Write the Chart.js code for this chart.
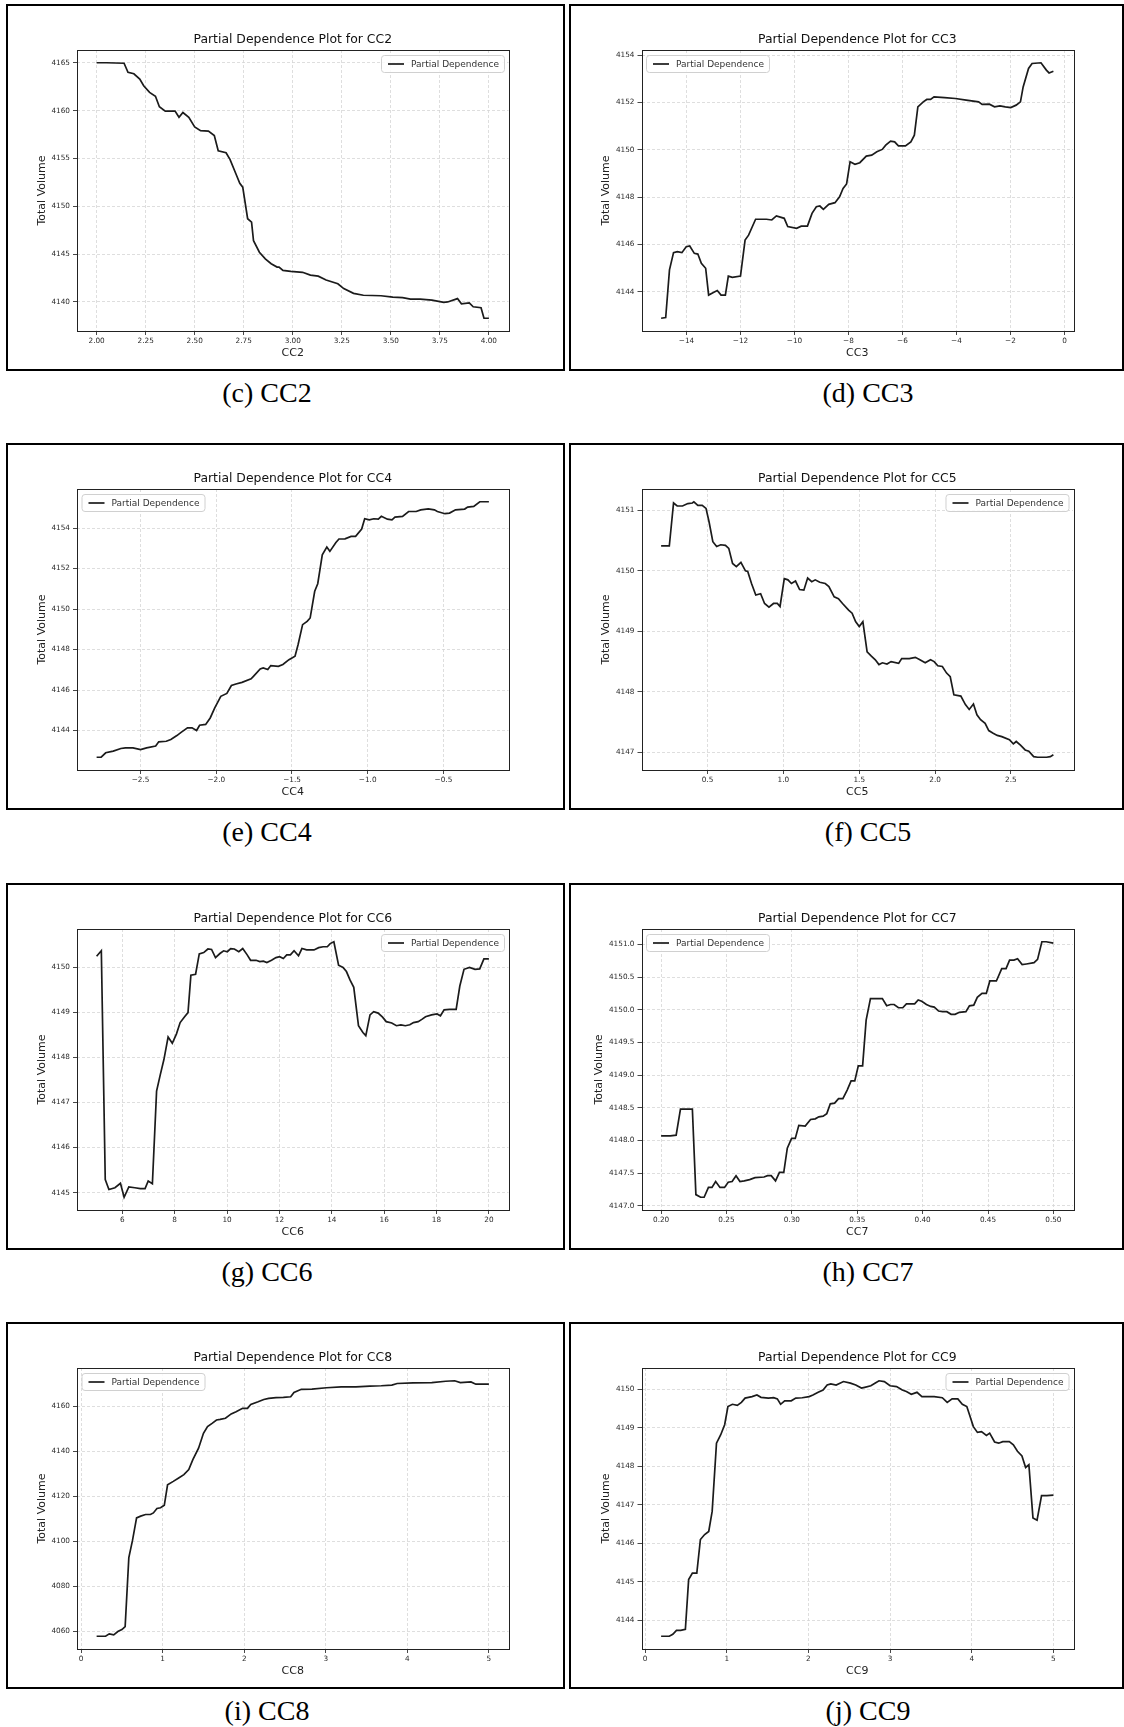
<!DOCTYPE html>
<html>
<head>
<meta charset="utf-8">
<script src="https://cdn.jsdelivr.net/npm/chart.js@4.4.1/dist/chart.umd.min.js"></script>
<style>
  body { margin: 0; background: #fff; width: 1124px; height: 1727px; position: relative; overflow: hidden; }
  .box { position: absolute; border: 2px solid #000; box-sizing: border-box; background: #fff; }
  .box canvas { position: absolute; left: 0; top: 0; }
  .cap { position: absolute; font-family: 'Liberation Serif', 'Times New Roman', serif; font-size: 28px;
         color: #000; transform: translate(-50%, -50%); white-space: nowrap; }
</style>
</head>
<body>
<script>
/* Partial dependence grid: eight panels (c)–(j), one line each. */

const cc2X = [2.00, 2.05, 2.14, 2.16, 2.19, 2.22, 2.24, 2.27, 2.30, 2.32, 2.35, 2.40, 2.42, 2.44, 2.47, 2.50, 2.53, 2.57, 2.60, 2.62,
  2.66, 2.68, 2.71, 2.73, 2.745, 2.77, 2.79, 2.80, 2.83, 2.86, 2.89, 2.92, 2.93, 2.95, 2.99, 3.05, 3.09, 3.13, 3.17, 3.23,
  3.26, 3.31, 3.36, 3.45, 3.51, 3.56, 3.60, 3.65, 3.71, 3.77, 3.79, 3.84, 3.86, 3.90, 3.92, 3.96, 3.975, 4.00];
const cc2Y = [4165.0, 4165.0, 4164.95, 4164.0, 4163.85, 4163.3, 4162.6, 4161.9, 4161.5, 4160.4, 4159.95, 4159.95, 4159.3, 4159.8, 4159.3, 4158.3, 4157.9, 4157.85, 4157.4, 4155.8,
  4155.6, 4154.9, 4153.4, 4152.4, 4152.0, 4148.7, 4148.35, 4146.4, 4145.2, 4144.5, 4144.0, 4143.65, 4143.65, 4143.3, 4143.2, 4143.1, 4142.8, 4142.7, 4142.3, 4141.9,
  4141.4, 4140.9, 4140.7, 4140.65, 4140.5, 4140.45, 4140.3, 4140.3, 4140.2, 4139.95, 4140.0, 4140.35, 4139.8, 4139.9, 4139.5, 4139.4, 4138.3, 4138.3];
const cc2XTicks = ['2.00', '2.25', '2.50', '2.75', '3.00', '3.25', '3.50', '3.75', '4.00'];
const cc2YTicks = ['4140', '4145', '4150', '4155', '4160', '4165'];

const cc3X = [-14.94, -14.77, -14.63, -14.48, -14.34, -14.17, -14.01, -13.88, -13.71, -13.58,
  -13.45, -13.29, -13.18, -13.02, -12.86, -12.72, -12.56, -12.45, -12.30, -12.00,
  -11.83, -11.70, -11.44, -11.04, -10.84, -10.67, -10.38, -10.25, -9.92, -9.75,
  -9.52, -9.35, -9.19, -9.06, -8.93, -8.73, -8.50, -8.33, -8.20, -8.07,
  -7.94, -7.76, -7.58, -7.34, -7.14, -6.95, -6.75, -6.62, -6.44, -6.29,
  -6.15, -5.89, -5.69, -5.56, -5.43, -5.23, -5.10, -4.96, -4.83, -4.44,
  -4.04, -3.64, -3.18, -3.05, -2.78, -2.59, -2.39, -2.19, -1.99, -1.79,
  -1.63, -1.53, -1.33, -1.20, -0.87, -0.67, -0.57, -0.41];
const cc3Y = [4142.89, 4142.92, 4144.93, 4145.66, 4145.70, 4145.66, 4145.91, 4145.94, 4145.63, 4145.60,
  4145.21, 4145.00, 4143.87, 4143.97, 4144.06, 4143.87, 4143.87, 4144.67, 4144.62, 4144.67,
  4146.19, 4146.40, 4147.07, 4147.07, 4147.04, 4147.21, 4147.11, 4146.76, 4146.69, 4146.78,
  4146.78, 4147.32, 4147.60, 4147.63, 4147.49, 4147.70, 4147.77, 4148.02, 4148.37, 4148.56,
  4149.50, 4149.39, 4149.46, 4149.74, 4149.78, 4149.92, 4150.02, 4150.20, 4150.37, 4150.34,
  4150.17, 4150.17, 4150.34, 4150.62, 4151.82, 4152.03, 4152.13, 4152.13, 4152.24, 4152.21,
  4152.17, 4152.10, 4152.03, 4151.92, 4151.93, 4151.82, 4151.86, 4151.82, 4151.79, 4151.89,
  4152.03, 4152.66, 4153.44, 4153.65, 4153.68, 4153.37, 4153.25, 4153.32];
const cc3XTicks = ['−14', '−12', '−10', '−8', '−6', '−4', '−2', '0'];
const cc3YTicks = ['4144', '4146', '4148', '4150', '4152', '4154'];

const cc4X = [-2.79, -2.76, -2.73, -2.68, -2.63, -2.60, -2.55, -2.50, -2.46, -2.40,
  -2.38, -2.33, -2.30, -2.26, -2.23, -2.19, -2.16, -2.13, -2.11, -2.07,
  -2.04, -2.01, -1.97, -1.93, -1.90, -1.87, -1.83, -1.77, -1.75, -1.71,
  -1.69, -1.66, -1.64, -1.59, -1.56, -1.52, -1.48, -1.46, -1.43, -1.40,
  -1.38, -1.35, -1.33, -1.30, -1.27, -1.25, -1.21, -1.19, -1.15, -1.11,
  -1.08, -1.04, -1.02, -0.99, -0.96, -0.93, -0.91, -0.87, -0.84, -0.82,
  -0.77, -0.73, -0.68, -0.65, -0.60, -0.56, -0.54, -0.49, -0.46, -0.42,
  -0.36, -0.34, -0.30, -0.26, -0.20];
const cc4Y = [4142.68, 4142.68, 4142.90, 4142.98, 4143.11, 4143.14, 4143.14, 4143.06, 4143.14, 4143.23,
  4143.44, 4143.47, 4143.56, 4143.75, 4143.92, 4144.13, 4144.13, 4144.00, 4144.26, 4144.30,
  4144.62, 4145.12, 4145.69, 4145.83, 4146.22, 4146.30, 4146.38, 4146.55, 4146.71, 4147.04,
  4147.09, 4147.01, 4147.21, 4147.17, 4147.26, 4147.50, 4147.67, 4148.24, 4149.23, 4149.39,
  4149.56, 4150.88, 4151.25, 4152.68, 4153.06, 4152.85, 4153.29, 4153.46, 4153.47, 4153.59,
  4153.59, 4153.95, 4154.46, 4154.41, 4154.46, 4154.44, 4154.58, 4154.44, 4154.41, 4154.54,
  4154.58, 4154.82, 4154.82, 4154.90, 4154.95, 4154.90, 4154.82, 4154.71, 4154.74, 4154.90,
  4154.94, 4155.04, 4155.07, 4155.30, 4155.30];
const cc4XTicks = ['−2.5', '−2.0', '−1.5', '−1.0', '−0.5'];
const cc4YTicks = ['4144', '4146', '4148', '4150', '4152', '4154'];

const cc5X = [0.194, 0.248, 0.276, 0.30, 0.335, 0.37, 0.40, 0.41, 0.436, 0.465,
  0.49, 0.51, 0.535, 0.56, 0.587, 0.618, 0.64, 0.665, 0.69, 0.72,
  0.75, 0.765, 0.79, 0.818, 0.85, 0.876, 0.905, 0.935, 0.96, 0.978,
  1.006, 1.03, 1.053, 1.08, 1.107, 1.135, 1.16, 1.187, 1.21, 1.24,
  1.276, 1.30, 1.335, 1.363, 1.39, 1.43, 1.453, 1.476, 1.50, 1.524,
  1.552, 1.58, 1.606, 1.63, 1.653, 1.683, 1.71, 1.76, 1.78, 1.83,
  1.87, 1.90, 1.935, 1.97, 1.994, 2.018, 2.048, 2.076, 2.10, 2.124,
  2.17, 2.20, 2.225, 2.253, 2.276, 2.30, 2.33, 2.354, 2.38, 2.41,
  2.44, 2.49, 2.516, 2.535, 2.563, 2.594, 2.618, 2.65, 2.676, 2.735,
  2.76, 2.78];
const cc5Y = [4150.41, 4150.41, 4151.12, 4151.07, 4151.07, 4151.11, 4151.12, 4151.14, 4151.08, 4151.08,
  4151.03, 4150.81, 4150.48, 4150.40, 4150.43, 4150.42, 4150.37, 4150.12, 4150.07, 4150.14,
  4150.00, 4149.99, 4149.79, 4149.60, 4149.62, 4149.46, 4149.40, 4149.46, 4149.46, 4149.41,
  4149.87, 4149.85, 4149.79, 4149.83, 4149.69, 4149.68, 4149.88, 4149.82, 4149.85, 4149.81,
  4149.79, 4149.74, 4149.57, 4149.54, 4149.46, 4149.35, 4149.30, 4149.16, 4149.08, 4149.16,
  4148.66, 4148.59, 4148.53, 4148.45, 4148.48, 4148.46, 4148.50, 4148.47, 4148.55, 4148.55,
  4148.57, 4148.53, 4148.48, 4148.53, 4148.50, 4148.43, 4148.42, 4148.31, 4148.25, 4147.95,
  4147.93, 4147.79, 4147.71, 4147.80, 4147.62, 4147.54, 4147.48, 4147.36, 4147.32, 4147.28,
  4147.26, 4147.21, 4147.14, 4147.18, 4147.12, 4147.04, 4147.02, 4146.93, 4146.92, 4146.92,
  4146.93, 4146.96];
const cc5XTicks = ['0.5', '1.0', '1.5', '2.0', '2.5'];
const cc5YTicks = ['4147', '4148', '4149', '4150', '4151'];

const cc6X = [5.02, 5.20, 5.35, 5.49, 5.72, 5.93, 6.07, 6.25, 6.48, 6.69,
  6.87, 6.99, 7.15, 7.31, 7.45, 7.59, 7.75, 7.91, 8.07, 8.21,
  8.38, 8.51, 8.62, 8.80, 8.94, 9.11, 9.27, 9.41, 9.56, 9.73,
  9.87, 10.01, 10.14, 10.28, 10.45, 10.60, 10.77, 10.90, 11.11, 11.25,
  11.39, 11.52, 11.70, 11.87, 12.01, 12.15, 12.28, 12.42, 12.56, 12.73,
  12.86, 13.04, 13.32, 13.50, 13.67, 13.83, 13.94, 14.08, 14.26, 14.43,
  14.56, 14.70, 14.84, 15.02, 15.19, 15.30, 15.46, 15.60, 15.77, 15.94,
  16.08, 16.29, 16.47, 16.64, 16.81, 16.98, 17.12, 17.30, 17.44, 17.58,
  17.81, 18.02, 18.15, 18.29, 18.50, 18.75, 18.89, 19.05, 19.26, 19.47,
  19.65, 19.81, 20.00];
const cc6Y = [4150.24, 4150.36, 4145.29, 4145.07, 4145.11, 4145.21, 4144.90, 4145.13, 4145.11, 4145.09,
  4145.09, 4145.26, 4145.20, 4147.25, 4147.61, 4147.95, 4148.45, 4148.31, 4148.52, 4148.77,
  4148.90, 4148.99, 4149.82, 4149.84, 4150.29, 4150.32, 4150.40, 4150.39, 4150.21, 4150.30,
  4150.36, 4150.34, 4150.41, 4150.40, 4150.34, 4150.41, 4150.27, 4150.15, 4150.15, 4150.12,
  4150.13, 4150.10, 4150.15, 4150.21, 4150.23, 4150.19, 4150.27, 4150.27, 4150.36, 4150.25,
  4150.41, 4150.38, 4150.38, 4150.43, 4150.45, 4150.45, 4150.52, 4150.56, 4150.04, 4149.99,
  4149.90, 4149.71, 4149.55, 4148.70, 4148.55, 4148.48, 4148.94, 4149.01, 4148.98, 4148.89,
  4148.79, 4148.76, 4148.70, 4148.72, 4148.70, 4148.72, 4148.77, 4148.79, 4148.84, 4148.90,
  4148.94, 4148.96, 4148.92, 4149.05, 4149.06, 4149.06, 4149.58, 4149.95, 4149.99, 4149.95,
  4149.96, 4150.18, 4150.18];
const cc6XTicks = ['6', '8', '10', '12', '14', '16', '18', '20'];
const cc6YTicks = ['4145', '4146', '4147', '4148', '4149', '4150'];

const cc7X = [0.200, 0.207, 0.2115, 0.2148, 0.2239, 0.2266, 0.2302, 0.2329, 0.2362, 0.2389,
  0.2417, 0.2450, 0.2485, 0.2513, 0.2543, 0.2573, 0.2603, 0.2636, 0.2677, 0.2718,
  0.2787, 0.2814, 0.2842, 0.2875, 0.2905, 0.2938, 0.2965, 0.2998, 0.3026, 0.3053,
  0.3102, 0.3143, 0.3179, 0.3206, 0.3239, 0.3267, 0.3294, 0.3327, 0.3357, 0.3390,
  0.3423, 0.3453, 0.3481, 0.3508, 0.3541, 0.3568, 0.3601, 0.3692, 0.3725, 0.3755,
  0.3782, 0.3815, 0.3848, 0.3876, 0.3939, 0.3966, 0.3993, 0.4029, 0.4062, 0.4089,
  0.4122, 0.4152, 0.4185, 0.4218, 0.4248, 0.4281, 0.4331, 0.4358, 0.4391, 0.4418,
  0.4454, 0.4487, 0.4514, 0.4564, 0.4605, 0.4638, 0.4665, 0.4698, 0.4726, 0.4761,
  0.4794, 0.4852, 0.4879, 0.4912, 0.4945, 0.5000];
const cc7Y = [4148.07, 4148.07, 4148.08, 4148.48, 4148.48, 4147.17, 4147.13, 4147.13, 4147.28, 4147.28,
  4147.37, 4147.28, 4147.28, 4147.36, 4147.37, 4147.46, 4147.37, 4147.38, 4147.40, 4147.43,
  4147.44, 4147.46, 4147.46, 4147.38, 4147.51, 4147.51, 4147.88, 4148.03, 4148.03, 4148.23,
  4148.22, 4148.32, 4148.33, 4148.36, 4148.37, 4148.41, 4148.56, 4148.57, 4148.64, 4148.64,
  4148.77, 4148.91, 4148.91, 4149.14, 4149.14, 4149.84, 4150.17, 4150.17, 4150.06, 4150.08,
  4150.08, 4150.03, 4150.03, 4150.09, 4150.09, 4150.15, 4150.13, 4150.08, 4150.05, 4150.04,
  4149.98, 4149.97, 4149.97, 4149.93, 4149.93, 4149.96, 4149.97, 4150.06, 4150.07, 4150.19,
  4150.25, 4150.25, 4150.44, 4150.44, 4150.63, 4150.63, 4150.76, 4150.76, 4150.78, 4150.69,
  4150.70, 4150.72, 4150.77, 4151.04, 4151.04, 4151.02];
const cc7XTicks = ['0.20', '0.25', '0.30', '0.35', '0.40', '0.45', '0.50'];
const cc7YTicks = ['4147.0', '4147.5', '4148.0', '4148.5', '4149.0', '4149.5', '4150.0', '4150.5', '4151.0'];

const cc8X = [0.19, 0.30, 0.345, 0.40, 0.45, 0.50, 0.54, 0.585, 0.63, 0.68,
  0.73, 0.79, 0.85, 0.886, 0.93, 0.974, 1.02, 1.06, 1.13, 1.196,
  1.26, 1.32, 1.37, 1.44, 1.50, 1.55, 1.61, 1.66, 1.705, 1.77,
  1.84, 1.90, 1.98, 2.04, 2.08, 2.17, 2.24, 2.30, 2.39, 2.48,
  2.57, 2.61, 2.70, 2.83, 3.01, 3.19, 3.37, 3.54, 3.68, 3.81,
  3.875, 4.07, 4.30, 4.47, 4.58, 4.65, 4.78, 4.84, 5.00];
const cc8Y = [4057.94, 4057.94, 4058.97, 4058.53, 4060.0, 4060.9, 4062.2, 4092.8, 4100.4, 4110.4,
  4111.2, 4111.9, 4111.9, 4112.6, 4114.6, 4114.9, 4116.0, 4125.1, 4126.6, 4128.1,
  4129.6, 4131.8, 4136.2, 4141.3, 4147.9, 4150.9, 4152.4, 4153.8, 4154.1, 4154.6,
  4156.5, 4157.5, 4159.0, 4159.0, 4160.7, 4161.9, 4162.9, 4163.4, 4163.7, 4163.8,
  4164.1, 4166.0, 4167.4, 4167.5, 4168.1, 4168.5, 4168.5, 4168.8, 4169.0, 4169.3,
  4170.0, 4170.3, 4170.4, 4171.0, 4171.2, 4170.4, 4170.7, 4169.7, 4169.7];
const cc8XTicks = ['0', '1', '2', '3', '4', '5'];
const cc8YTicks = ['4060', '4080', '4100', '4120', '4140', '4160'];

const cc9X = [0.197, 0.297, 0.34, 0.385, 0.437, 0.494, 0.534, 0.58, 0.634, 0.678,
  0.73, 0.78, 0.822, 0.875, 0.927, 0.975, 1.015, 1.07, 1.13, 1.18,
  1.225, 1.31, 1.37, 1.42, 1.51, 1.575, 1.62, 1.66, 1.71, 1.79,
  1.846, 1.925, 2.01, 2.056, 2.12, 2.18, 2.23, 2.275, 2.34, 2.43,
  2.515, 2.58, 2.65, 2.69, 2.765, 2.82, 2.865, 2.93, 3.00, 3.08,
  3.15, 3.20, 3.26, 3.33, 3.39, 3.54, 3.64, 3.70, 3.76, 3.83,
  3.885, 3.94, 3.98, 4.02, 4.07, 4.12, 4.18, 4.22, 4.28, 4.33,
  4.38, 4.46, 4.51, 4.56, 4.615, 4.66, 4.70, 4.75, 4.80, 4.855,
  4.92, 5.00];
const cc9Y = [4143.59, 4143.59, 4143.64, 4143.74, 4143.74, 4143.77, 4145.06, 4145.23, 4145.23, 4146.10,
  4146.23, 4146.31, 4146.83, 4148.60, 4148.82, 4149.08, 4149.55, 4149.61, 4149.58, 4149.66,
  4149.77, 4149.81, 4149.85, 4149.79, 4149.77, 4149.78, 4149.75, 4149.61, 4149.70, 4149.70,
  4149.77, 4149.78, 4149.81, 4149.85, 4149.92, 4149.98, 4150.11, 4150.14, 4150.11, 4150.20,
  4150.16, 4150.11, 4150.03, 4150.05, 4150.09, 4150.16, 4150.22, 4150.20, 4150.09, 4150.07,
  4149.98, 4149.94, 4149.87, 4149.92, 4149.81, 4149.81, 4149.78, 4149.66, 4149.75, 4149.75,
  4149.61, 4149.55, 4149.29, 4149.03, 4148.88, 4148.90, 4148.80, 4148.86, 4148.63, 4148.60,
  4148.64, 4148.64, 4148.56, 4148.39, 4148.27, 4147.97, 4148.04, 4146.66, 4146.60, 4147.24,
  4147.24, 4147.25];
const cc9XTicks = ['0', '1', '2', '3', '4', '5'];
const cc9YTicks = ['4144', '4145', '4146', '4147', '4148', '4149', '4150'];

const panels = [
  { tag: 'c', name: 'CC2', x: cc2X, y: cc2Y, xTicks: cc2XTicks, yTicks: cc2YTicks, legendSide: 'right' },
  { tag: 'd', name: 'CC3', x: cc3X, y: cc3Y, xTicks: cc3XTicks, yTicks: cc3YTicks, legendSide: 'left' },
  { tag: 'e', name: 'CC4', x: cc4X, y: cc4Y, xTicks: cc4XTicks, yTicks: cc4YTicks, legendSide: 'left' },
  { tag: 'f', name: 'CC5', x: cc5X, y: cc5Y, xTicks: cc5XTicks, yTicks: cc5YTicks, legendSide: 'right' },
  { tag: 'g', name: 'CC6', x: cc6X, y: cc6Y, xTicks: cc6XTicks, yTicks: cc6YTicks, legendSide: 'right' },
  { tag: 'h', name: 'CC7', x: cc7X, y: cc7Y, xTicks: cc7XTicks, yTicks: cc7YTicks, legendSide: 'left', yTitleGap: 42.4 },
  { tag: 'i', name: 'CC8', x: cc8X, y: cc8Y, xTicks: cc8XTicks, yTicks: cc8YTicks, legendSide: 'left' },
  { tag: 'j', name: 'CC9', x: cc9X, y: cc9Y, xTicks: cc9XTicks, yTicks: cc9YTicks, legendSide: 'right' },
];

// page layout (px)
const ROW_OFFSETS = [0, 439, 879, 1318];
const COLS = [
  { left: 6, width: 559, plotLeft: 69, capX: 267 },
  { left: 569, width: 555, plotLeft: 70.5, capX: 868 },
];
const BOX_TOP = 4, BOX_H = 367, BORDER = 2;
const PLOT_W = 431.5, PLOT_TOP = 44, XAXIS_H = 38;
const INK = '#1b1b1b';
const FONT = "'DejaVu Sans', sans-serif";
const LABEL_SIZE = 11;

Chart.defaults.font.family = FONT;

// matplotlib-style 5% data margins
function padRange(vals) {
  const lo = Math.min(...vals), hi = Math.max(...vals);
  const m = (hi - lo) * 0.05;
  return [lo - m, hi + m];
}
const toNum = (s) => parseFloat(s.replace('−', '-'));

// title, legend box and the four spines, drawn like matplotlib does
const decor = {
  id: 'pdpDecor',
  afterDatasetsDraw(chart, args, opts) {
    const { ctx, chartArea: ca } = chart;
    ctx.save();

    ctx.strokeStyle = '#222';
    ctx.lineWidth = 1;
    ctx.strokeRect(Math.round(ca.left) + 0.5, Math.round(ca.top) + 0.5,
      Math.round(ca.right - ca.left), Math.round(ca.bottom - ca.top));

    ctx.fillStyle = '#111';
    ctx.font = `12.4px ${FONT}`;
    ctx.textAlign = 'center';
    ctx.textBaseline = 'middle';
    ctx.fillText(opts.title, (ca.left + ca.right) / 2, ca.top - 10);

    const label = chart.data.datasets[0].label;
    ctx.font = `9px ${FONT}`;
    const tw = ctx.measureText(label).width;
    const w = 7 + 16 + 7 + tw + 5, h = 17;
    const x0 = opts.side === 'right' ? ca.right - 4.5 - w : ca.left + 4.5;
    const y0 = ca.top + 5;
    ctx.beginPath();
    ctx.roundRect(x0 + 0.5, y0 + 0.5, w, h, 3);
    ctx.fillStyle = 'rgba(255,255,255,0.85)';
    ctx.fill();
    ctx.strokeStyle = '#d0d0d0';
    ctx.stroke();
    ctx.beginPath();
    ctx.moveTo(x0 + 7, y0 + h / 2 + 0.5);
    ctx.lineTo(x0 + 23, y0 + h / 2 + 0.5);
    ctx.strokeStyle = INK;
    ctx.lineWidth = 1.7;
    ctx.stroke();
    ctx.fillStyle = '#333';
    ctx.textAlign = 'left';
    ctx.fillText(label, x0 + 30, y0 + h / 2 + 1);
    ctx.restore();
  },
};

function axisOpts(tickLabels, range, isX, extra) {
  return Object.assign({
    type: 'linear',
    min: range[0],
    max: range[1],
    afterBuildTicks: (s) => { s.ticks = tickLabels.map((t) => ({ value: toNum(t) })); },
    ticks: {
      autoSkip: false, maxRotation: 0, minRotation: 0,
      padding: isX ? 2 : 3,
      color: '#2a2a2a',
      font: { size: 7.3 },
      callback: (v, i) => tickLabels[i],
    },
    grid: {
      color: '#d6d6d6', lineWidth: 0.8,
      drawTicks: true, tickLength: 4, tickColor: '#333', tickWidth: 0.9, tickBorderDash: [],
    },
    border: { display: false, dash: [3, 2] },
  }, extra);
}

panels.forEach((p, i) => {
  const col = COLS[i % 2];
  const rowOff = ROW_OFFSETS[Math.floor(i / 2)];

  const box = document.createElement('div');
  box.className = 'box';
  box.style.left = col.left + 'px';
  box.style.top = (BOX_TOP + rowOff) + 'px';
  box.style.width = col.width + 'px';
  box.style.height = BOX_H + 'px';
  document.body.appendChild(box);

  const cw = col.width - 2 * BORDER, chh = BOX_H - 2 * BORDER;
  const canvas = document.createElement('canvas');
  canvas.width = cw;
  canvas.height = chh;
  canvas.style.width = cw + 'px';
  canvas.style.height = chh + 'px';
  box.appendChild(canvas);

  const cap = document.createElement('div');
  cap.className = 'cap';
  cap.textContent = `(${p.tag}) ${p.name}`;
  cap.style.left = col.capX + 'px';
  cap.style.top = (393 + rowOff) + 'px';
  document.body.appendChild(cap);

  const L = col.plotLeft;
  const rightPad = cw - (L + PLOT_W);
  const yTitleGap = p.yTitleGap || 35;
  const pts = p.x.map((v, k) => ({ x: v, y: p.y[k] }));

  new Chart(canvas, {
    type: 'line',
    data: {
      datasets: [{
        label: 'Partial Dependence',
        data: pts,
        borderColor: INK,
        backgroundColor: INK,
        borderWidth: 1.7,
        pointRadius: 0,
        tension: 0,
      }],
    },
    options: {
      responsive: false,
      animation: false,
      devicePixelRatio: 1,
      layout: { padding: { top: PLOT_TOP, right: rightPad, bottom: 0, left: 0 } },
      plugins: {
        legend: { display: false },
        tooltip: { enabled: false },
        pdpDecor: { title: `Partial Dependence Plot for ${p.name}`, side: p.legendSide },
      },
      scales: {
        x: axisOpts(p.xTicks, padRange(p.x), true, {
          afterFit: (s) => { s.height = XAXIS_H; },
          title: { display: true, text: p.name, color: '#222', font: { size: LABEL_SIZE },
                   padding: { top: 0, bottom: 9.1 } },
        }),
        y: axisOpts(p.yTicks, padRange(p.y), false, {
          afterFit: (s) => { s.width = L; },
          title: { display: true, text: 'Total Volume', color: '#222', font: { size: LABEL_SIZE },
                   padding: { top: L - yTitleGap - LABEL_SIZE * 0.6, bottom: 0 } },
        }),
      },
    },
    plugins: [decor],
  });
});
</script>
</body>
</html>
